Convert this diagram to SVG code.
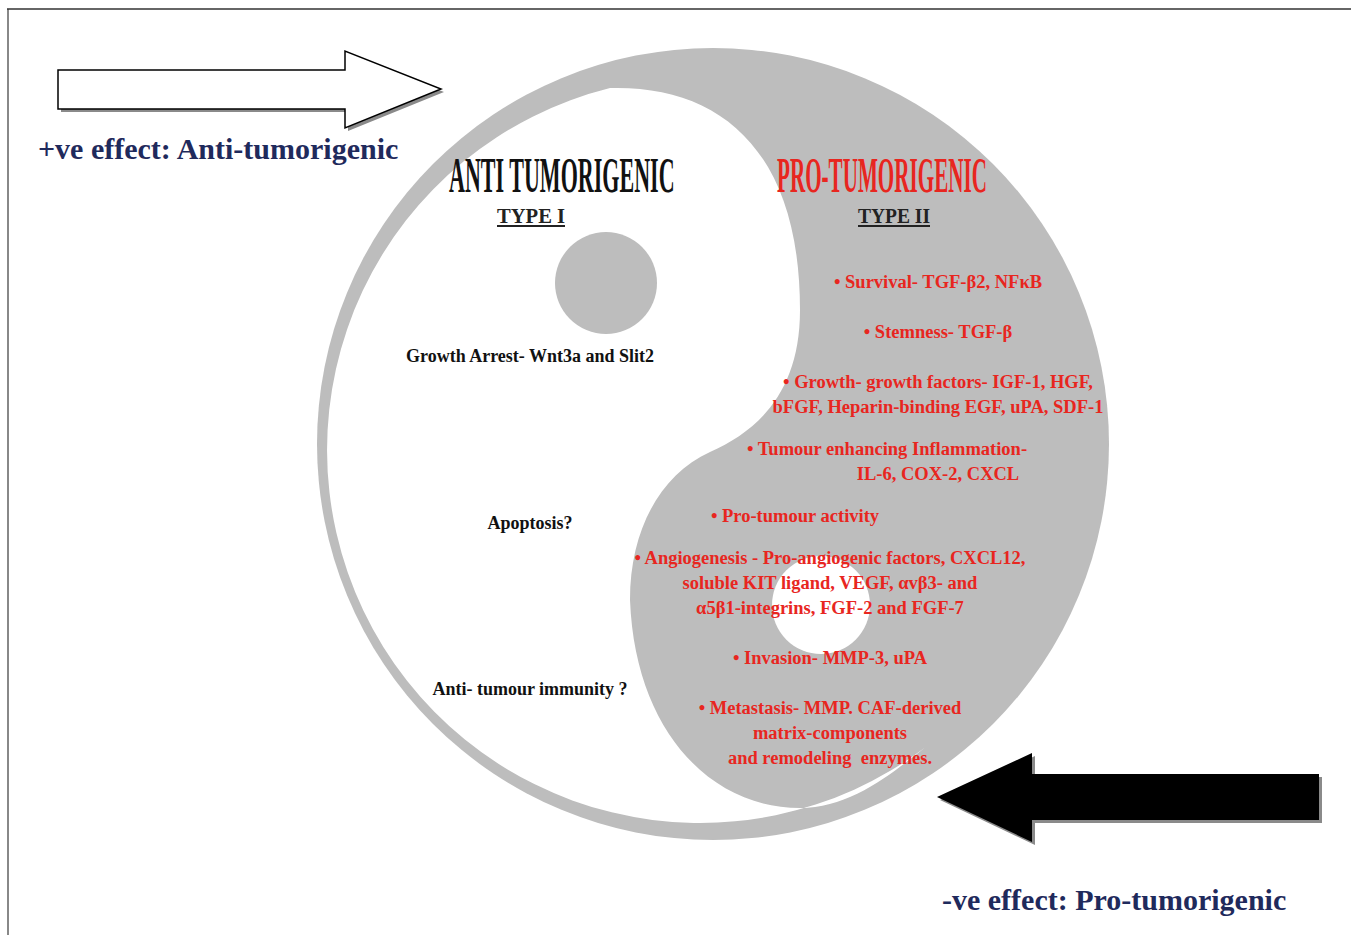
<svg xmlns="http://www.w3.org/2000/svg" width="1351" height="935" viewBox="0 0 1351 935">
<style>
.navy{font-family:"Liberation Serif","Times New Roman",serif;font-weight:bold;font-size:30px;fill:#1f2a5c}
.blk{font-family:"Liberation Serif","Times New Roman",serif;font-weight:bold;font-size:18px;fill:#111;text-anchor:middle}
.red{font-family:"Liberation Serif","Times New Roman",serif;font-weight:bold;font-size:18.5px;fill:#e8261f;text-anchor:middle}
.title{font-family:"Liberation Serif","Times New Roman",serif;font-weight:bold;font-size:50px}
.type{font-family:"Liberation Serif","Times New Roman",serif;font-weight:bold;font-size:21px;fill:#222}
.gray{fill:#bdbdbd}
.shadow{fill:#8a8a8a}
</style>
<rect width="1351" height="935" fill="#fff"/>
<g id="frame">
<line x1="8" y1="9" x2="8" y2="935" stroke="#888" stroke-width="2"/>
<line x1="7" y1="9" x2="1351" y2="9" stroke="#333" stroke-width="1.5"/>
</g>
<g id="yinyang">
<circle class="gray" cx="713" cy="444" r="396"/>
<path fill="#fff" d="M610,88 C720,85 800,150 800,310 C800,390 760,430 710,452 C660,475 630,530 630,600 C635,730 710,808 800,808 C850,808 890,775 925,747.5 A373,373 0 1 1 610,88 Z"/>
<circle class="gray" cx="606" cy="283" r="51"/>
<circle fill="#fff" cx="821" cy="605" r="49"/>
</g>
<g id="connectors">
<g id="arrow-positive">
<path class="shadow" d="M61,73 H348 V54 L444,92 L348,131 V112 H61 Z"/>
<path fill="#fff" stroke="#000" stroke-width="1.5" d="M58,70 H345 V51 L441,89 L345,128 V109 H58 Z"/>
</g>
<g id="arrow-negative">
<path class="shadow" d="M940,800 L1035,756 V777 H1322 V823 H1035 V845 Z"/>
<path fill="#000" d="M937,797 L1032,753 V774 H1319 V820 H1032 V842 Z"/>
</g>
</g>
<g id="label-positive"><text class="navy" x="38" y="159">+ve effect: Anti-tumorigenic</text></g>
<g id="label-negative"><text class="navy" x="942" y="910">-ve effect: Pro-tumorigenic</text></g>
<g id="anti-title">
<text class="title" transform="translate(449,192) scale(0.441,1)" fill="#111">ANTI TUMORIGENIC</text>
<text class="type" x="497" y="223" textLength="68" lengthAdjust="spacingAndGlyphs">TYPE I</text>
<line x1="497" y1="226" x2="565" y2="226" stroke="#222" stroke-width="2"/>
</g>
<g id="pro-title">
<text class="title" transform="translate(777,192) scale(0.4224,1)" fill="#e8261f">PRO-TUMORIGENIC</text>
<text class="type" x="858" y="223" textLength="72" lengthAdjust="spacingAndGlyphs">TYPE II</text>
<line x1="858" y1="226" x2="930" y2="226" stroke="#222" stroke-width="2"/>
</g>
<g id="anti-effects">
<text class="blk" x="530" y="362">Growth Arrest- Wnt3a and Slit2</text>
<text class="blk" x="530" y="529">Apoptosis?</text>
<text class="blk" x="530" y="695">Anti- tumour immunity ?</text>
</g>
<g id="pro-effects">
<text class="red" x="938" y="288">• Survival- TGF-β2, NFκB</text>
<text class="red" x="938" y="338">• Stemness- TGF-β</text>
<text class="red" x="938" y="388">• Growth- growth factors- IGF-1, HGF,</text>
<text class="red" x="938" y="413">bFGF, Heparin-binding EGF, uPA, SDF-1</text>
<text class="red" x="887" y="455">• Tumour enhancing Inflammation-</text>
<text class="red" x="938" y="480">IL-6, COX-2, CXCL</text>
<text class="red" x="795" y="522">• Pro-tumour activity</text>
<text class="red" x="830" y="564">• Angiogenesis - Pro-angiogenic factors, CXCL12,</text>
<text class="red" x="830" y="589">soluble KIT ligand, VEGF, αvβ3- and</text>
<text class="red" x="830" y="614">α5β1-integrins, FGF-2 and FGF-7</text>
<text class="red" x="830" y="664">• Invasion- MMP-3, uPA</text>
<text class="red" x="830" y="714">• Metastasis- MMP. CAF-derived</text>
<text class="red" x="830" y="739">matrix-components</text>
<text class="red" x="830" y="764" xml:space="preserve">and remodeling  enzymes.</text>
</g>
</svg>
